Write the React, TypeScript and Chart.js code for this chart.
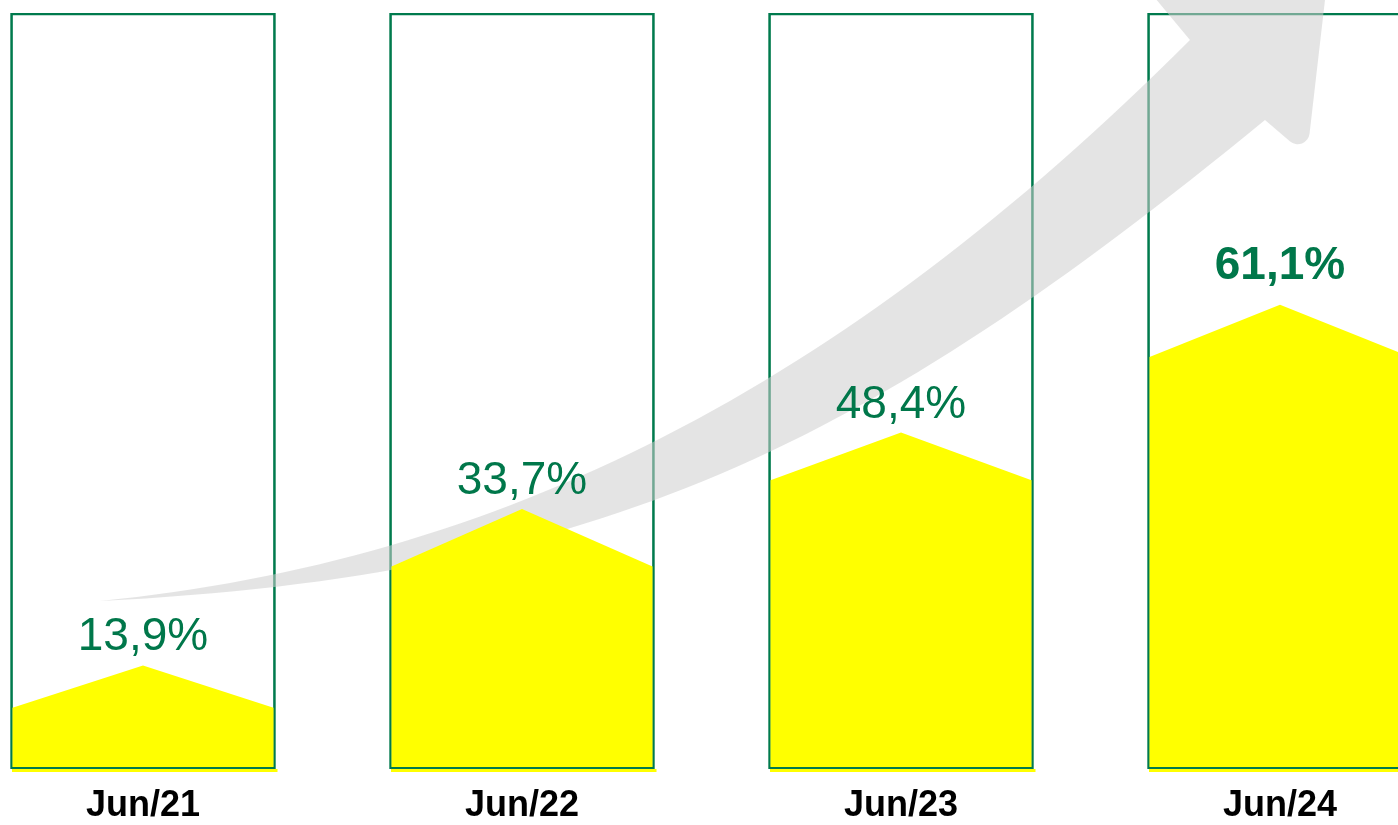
import React, { useEffect, useRef } from "react";
import { Chart, registerables } from "chart.js";

Chart.register(...registerables);

// ---------- data ----------
const categories = ["Jun/21", "Jun/22", "Jun/23", "Jun/24"];
const values = [13.9, 33.7, 48.4, 61.1];
const valueLabels = ["13,9%", "33,7%", "48,4%", "61,1%"];
const highlight = [false, false, false, true];
// yellow fill shape (roof peak and shoulder levels, % of box)
const fillPeak = [13.7, 34.4, 44.5, 61.4];
const fillShoulder = [8.1, 26.8, 38.2, 54.5];
// box outline height (full box = 100%)
const boxLevel = [100, 100, 100, 100];

// decorative grey growth arrow, in data units [x index, y %]
// upper edge: cubic bezier (start, c1, c2, end)
const arrowUpper: [number, number][] = [
  [-0.1135, 22.22],
  [0.942, 27.51],
  [1.8391, 50.13],
  [2.7625, 96.43],
];
const arrowHeadPts: [number, number][] = [
  [2.657, 102.78], // left barb
  [3.1319, 107.01], // tip
  [3.1187, 101.72], // right edge
];
const arrowRightBarb: [number, number] = [3.0712, 81.08];
// lower edge: cubic bezier from notch back to tail
const arrowLower: [number, number][] = [
  [2.9604, 85.85],
  [1.905, 42.46],
  [1.2058, 25.53],
  [-0.1135, 22.22],
];

const GREEN = "#007A4D";
const TEXT_GREEN = "#00774A";
const YELLOW = "#FFFF00";
const GREY = "rgba(205,205,205,0.55)";
const FONT = '"Liberation Sans", Arial, sans-serif';

const decorPlugin = {
  id: "decor",
  afterDatasetsDraw(chart: any) {
    const { ctx } = chart;
    const xs = chart.scales.x;
    const ys = chart.scales.y;
    const px = (p: [number, number]): [number, number] => [xs.getPixelForValue(p[0]), ys.getPixelForValue(p[1])];
    ctx.save();

    // grey arrow
    const u = arrowUpper.map(px);
    const l = arrowLower.map(px);
    ctx.beginPath();
    ctx.moveTo(u[0][0], u[0][1]);
    ctx.bezierCurveTo(u[1][0], u[1][1], u[2][0], u[2][1], u[3][0], u[3][1]);
    arrowHeadPts.map(px).forEach((p) => ctx.lineTo(p[0], p[1]));
    const rb = px(arrowRightBarb);
    ctx.arcTo(rb[0], rb[1], l[0][0], l[0][1], 12);
    ctx.lineTo(l[0][0], l[0][1]);
    ctx.bezierCurveTo(l[1][0], l[1][1], l[2][0], l[2][1], l[3][0], l[3][1]);
    ctx.closePath();
    ctx.fillStyle = GREY;
    ctx.fill();

    // yellow roofs
    const meta = chart.getDatasetMeta(0);
    const bw = 2;
    meta.data.forEach((bar: any, i: number) => {
      const { x, width } = bar.getProps(["x", "width"], true);
      const left = x - width / 2 + bw;
      const right = x + width / 2 - bw;
      const bottom = ys.getPixelForValue(0);
      const sh = ys.getPixelForValue(fillShoulder[i]);
      const pk = ys.getPixelForValue(fillPeak[i]);
      ctx.fillStyle = YELLOW;
      ctx.beginPath();
      ctx.moveTo(left, bottom - bw);
      ctx.lineTo(left, sh);
      ctx.lineTo(x, pk);
      ctx.lineTo(right, sh);
      ctx.lineTo(right, bottom - bw);
      ctx.closePath();
      ctx.fill();
      // thin shadow strip below the box
      ctx.fillRect(x - width / 2 + 1.5, bottom, width + 0.5, 3);

      // value label
      ctx.fillStyle = TEXT_GREEN;
      ctx.font = (highlight[i] ? "bold " : "") + "46px " + FONT;
      ctx.textAlign = "center";
      ctx.textBaseline = "alphabetic";
      ctx.fillText(valueLabels[i], x, pk - (highlight[i] ? 26 : 15));
    });
    ctx.restore();
  },
};

export default function App() {
  const ref = useRef<HTMLCanvasElement | null>(null);
  useEffect(() => {
    if (!ref.current) return;
    Chart.defaults.font.family = FONT;
    const chart = new Chart(ref.current, {
      type: "bar",
      data: {
        datasets: [
          {
            label: "Share",
            data: boxLevel.map((y, i) => ({ x: i, y })) as any,
            backgroundColor: "rgba(0,0,0,0)",
            borderColor: GREEN,
            borderWidth: 2,
            borderSkipped: false,
            barThickness: 265,
          } as any,
        ],
      },
      options: {
        animation: false,
        responsive: true,
        maintainAspectRatio: false,
        layout: { padding: { top: 13, bottom: -18, left: 0, right: 0 } },
        plugins: { legend: { display: false }, tooltip: { enabled: false } },
        scales: {
          x: {
            type: "linear",
            offset: false,
            min: -143 / 379,
            max: (1398 - 143) / 379,
            afterBuildTicks: (axis: any) => {
              axis.ticks = categories.map((_, i) => ({ value: i }));
            },
            ticks: {
              autoSkip: false,
              maxRotation: 0,
              padding: 19,
              color: "#000",
              font: { family: FONT, size: 36, weight: "bold", lineHeight: 1 },
              callback: (_v: any, idx: number) => categories[idx] ?? "",
            },
            grid: { display: false, drawTicks: false, offset: false },
            border: { display: false },
          },
          y: { min: 0, max: 100, display: false },
        },
      } as any,
      plugins: [decorPlugin],
    });
    void values;
    return () => chart.destroy();
  }, []);
  return (
    <div style={{ position: "fixed", left: 0, top: 0, width: 1398, height: 825, background: "#fff" }}>
      <canvas ref={ref} />
    </div>
  );
}
